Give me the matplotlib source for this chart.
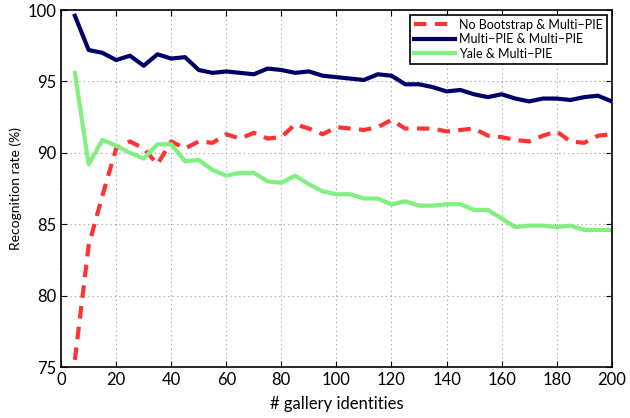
import numpy as np
import matplotlib
matplotlib.use('Agg')
import matplotlib.pyplot as plt

plt.rcParams['font.family'] = ['Lato', 'DejaVu Sans']

# Données
gallery = list(range(5, 201, 5))

no_bootstrap = [75.5, 83.5, 87.0, 90.3, 90.8, 90.3, 89.2, 90.8, 90.3, 90.8,
                90.7, 91.3, 91.0, 91.4, 91.0, 91.1, 92.0, 91.7, 91.3, 91.8,
                91.7, 91.6, 91.8, 92.3, 91.7, 91.7, 91.7, 91.5, 91.6, 91.7,
                91.2, 91.1, 90.9, 90.8, 91.2, 91.5, 90.8, 90.7, 91.2, 91.3]

multipie = [99.6, 97.2, 97.0, 96.5, 96.8, 96.1, 96.9, 96.6, 96.7, 95.8,
            95.6, 95.7, 95.6, 95.5, 95.9, 95.8, 95.6, 95.7, 95.4, 95.3,
            95.2, 95.1, 95.5, 95.4, 94.8, 94.8, 94.6, 94.3, 94.4, 94.1,
            93.9, 94.1, 93.8, 93.6, 93.8, 93.8, 93.7, 93.9, 94.0, 93.6]

yale = [95.6, 89.2, 90.9, 90.5, 90.0, 89.6, 90.6, 90.6, 89.4, 89.5,
        88.8, 88.4, 88.6, 88.6, 88.0, 87.9, 88.4, 87.8, 87.3, 87.1,
        87.1, 86.8, 86.8, 86.4, 86.6, 86.3, 86.3, 86.4, 86.4, 86.0,
        86.0, 85.4, 84.8, 84.9, 84.9, 84.8, 84.9, 84.6, 84.6, 84.6]

labels = ['No Bootstrap & Multi\u2212PIE', 'Multi\u2212PIE & Multi\u2212PIE',
          'Yale & Multi\u2212PIE']

fig = plt.figure(figsize=(6.3, 4.18), dpi=100)
ax = fig.add_axes([0.097, 0.122, 0.874, 0.854])

ax.plot(gallery, no_bootstrap, color='#ff3333', lw=3, ls=(0, (3, 2)), label=labels[0])
ax.plot(gallery, multipie, color='#000066', lw=3, label=labels[1])
ax.plot(gallery, yale, color='#80f080', lw=3, label=labels[2])

ax.set_xlim(0, 200)
ax.set_ylim(75, 100)
ax.set_xticks(range(0, 201, 20))
ax.set_yticks(range(75, 101, 5))
ax.grid(True, color='#999999', ls=(0, (1, 3)), lw=0.8)
ax.tick_params(direction='in', labelsize=12, length=4, top=True, right=True)
for s in ax.spines.values():
    s.set_linewidth(1.2)

ax.set_xlabel('# gallery identities', fontsize=12, labelpad=6)
ax.set_ylabel('Recognition rate (%)', fontsize=10, labelpad=4)

leg = ax.legend(loc='upper right', fontsize=9, fancybox=False, framealpha=1,
                edgecolor='black', borderpad=0.3, labelspacing=0.2,
                handlelength=3.3, handletextpad=0.3, borderaxespad=0.4)
leg.get_frame().set_linewidth(1.2)

fig.savefig('out.png', dpi=100)
